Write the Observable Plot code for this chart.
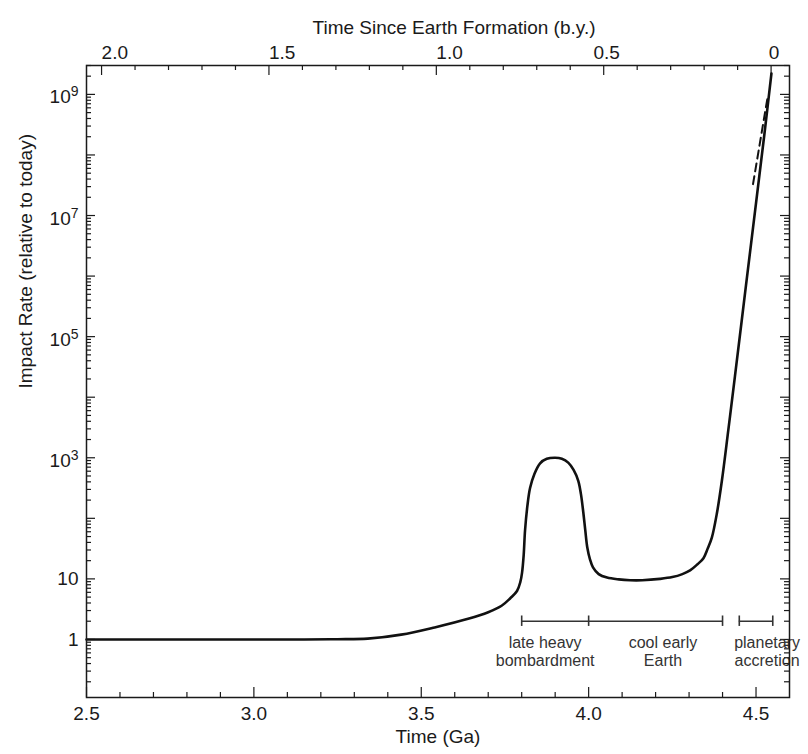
<!DOCTYPE html>
<html><head><meta charset="utf-8">
<script src="https://cdn.jsdelivr.net/npm/d3@7"></script>
<script src="https://cdn.jsdelivr.net/npm/@observablehq/plot@0.6"></script>
<style>
body{margin:0;background:#fff}
svg{font-family:"Liberation Sans",Arial,Helvetica,sans-serif}
</style>
</head><body><div id="chart"></div>
<script>
// ---- data ----
const timeGa = [2.5, 2.8, 3.0, 3.15, 3.25, 3.34, 3.44, 3.54, 3.64, 3.70, 3.74, 3.766, 3.786, 3.796, 3.801, 3.806, 3.810, 3.817, 3.825, 3.838, 3.855, 3.875, 3.900, 3.920, 3.939, 3.955, 3.969, 3.977, 3.984, 3.990, 3.996, 4.004, 4.013, 4.03, 4.055, 4.09, 4.124, 4.16, 4.213, 4.25, 4.28, 4.303, 4.325, 4.343, 4.356, 4.368, 4.383, 4.398, 4.417, 4.437, 4.47, 4.50, 4.525, 4.546];
const impactRate = [1.0, 1.0, 1.0, 1.0, 1.01, 1.03, 1.2, 1.58, 2.19, 2.82, 3.6, 4.8, 6.3, 8.9, 12.6, 25, 63, 160, 316, 540, 810, 960, 1000, 960, 832, 631, 417, 251, 126, 63, 33, 21, 15.5, 12, 10.5, 9.8, 9.5, 9.5, 10, 10.7, 12, 13.8, 17.4, 22, 32, 48, 120, 417, 2800, 22000, 7e5, 1.6e7, 2.2e8, 2.2e9];
const dashTimeGa = [4.491, 4.536];
const dashRate = [3.3e7, 1.0e9];

const bottomTickLabels = [2.5, 3.0, 3.5, 4.0, 4.5];
const bottomMinorTicks = [2.6, 2.7, 2.8, 2.9, 3.1, 3.2, 3.3, 3.4, 3.6, 3.7, 3.8, 3.9, 4.1, 4.2, 4.3, 4.4];
const earthFormationGa = 4.545;
const topTickLabels = [2.0, 1.5, 1.0, 0.5, 0];
const topMinorTicks = [1.9, 1.8, 1.7, 1.6, 1.4, 1.3, 1.2, 1.1, 0.9, 0.8, 0.7, 0.6, 0.4, 0.3, 0.2, 0.1];
const yTickLabels = [1, 10, 1e3, 1e5, 1e7, 1e9];

const periodNames = ["late heavy\nbombardment", "cool early\nEarth", "planetary\naccretion"];
const periodStart = [3.8, 4.0, 4.45];
const periodEnd = [4.0, 4.4, 4.55];
const periodLabelAt = [3.87, 4.222, 4.533];
const bracketLevel = 2;
const labelLevel = 0.63;

// ---- layout ----
const W = 808, H = 754, mL = 86, mR = 19, mT = 65, mB = 57;
const pw = W - mL - mR, ph = H - mT - mB;
const ink = "#1a1a1a";
const fs = 19;

const curve = timeGa.map((t, i) => ({t, r: impactRate[i]}));
const dash = dashTimeGa.map((t, i) => ({t, r: dashRate[i]}));
const periods = periodNames.map((n, i) => ({n, a: periodStart[i], b: periodEnd[i], c: periodLabelAt[i]}));
const bracketEnds = Array.from(new Set([...periodStart, ...periodEnd]));

const yAll = d3.scaleLog().domain([0.11, 3e9]).ticks(40);
const isPow = v => Math.abs(Math.log10(v) - Math.round(Math.log10(v))) < 1e-9;
const yMajor = yAll.filter(isPow);
const yMinor = yAll.filter(v => !isPow(v));

const toGa = b => earthFormationGa - b;
const fmtTop = b => b === 0 ? "0" : b.toFixed(1);
const fmtPow = v => v === 1 ? "1" : v === 10 ? "10" : "10^" + Math.round(Math.log10(v));

const tk = {stroke: ink, strokeWidth: 1.2};

const chart = Plot.plot({
  width: W, height: H,
  marginLeft: mL, marginRight: mR, marginTop: mT, marginBottom: mB,
  x: {domain: [2.5, 4.6]},
  y: {type: "log", domain: [0.11, 3e9]},
  style: {fontFamily: '"Liberation Sans",Arial,Helvetica,sans-serif', background: "white", color: ink},
  marks: [
    // inward ticks
    Plot.ruleX(bottomMinorTicks, {x: d => d, insetTop: ph - 5, ...tk}),
    Plot.ruleX(bottomTickLabels, {x: d => d, insetTop: ph - 10, ...tk}),
    Plot.ruleX(topMinorTicks.map(toGa), {x: d => d, insetBottom: ph - 5, ...tk}),
    Plot.ruleX(topTickLabels.map(toGa), {x: d => d, insetBottom: ph - 10, ...tk}),
    Plot.ruleY(yMinor, {y: d => d, insetRight: pw - 5, ...tk}),
    Plot.ruleY(yMinor, {y: d => d, insetLeft: pw - 5, ...tk}),
    Plot.ruleY(yMajor, {y: d => d, insetRight: pw - 9, ...tk}),
    Plot.ruleY(yMajor, {y: d => d, insetLeft: pw - 9, ...tk}),
    // axes labels
    Plot.axisX({ticks: bottomTickLabels, anchor: "bottom", tickSize: 0, tickPadding: 9, fontSize: fs, tickFormat: d3.format(".1f"), label: null}),
    Plot.axisY({ticks: yTickLabels, anchor: "left", tickSize: 0, tickPadding: 8, fontSize: fs, tickFormat: fmtPow, label: null}),
    Plot.text(topTickLabels.slice(0, 3), {x: toGa, text: fmtTop, frameAnchor: "top", lineAnchor: "bottom", textAnchor: "start", dy: -7, fontSize: fs, fill: ink}),
    Plot.text(topTickLabels.slice(3), {x: toGa, text: fmtTop, frameAnchor: "top", lineAnchor: "bottom", dx: 3, dy: -7, fontSize: fs, fill: ink}),
    Plot.text(["Time Since Earth Formation (b.y.)"], {frameAnchor: "top", dx: 16, dy: -45, fontSize: fs, fill: ink}),
    Plot.text(["Time (Ga)"], {frameAnchor: "bottom", dy: 45, fontSize: fs, fill: ink}),
    Plot.text(["Impact Rate (relative to today)"], {frameAnchor: "left", dx: -61, dy: 7, rotate: -90, fontSize: fs, fill: ink}),
    // period brackets
    Plot.ruleY(periods, {y: () => bracketLevel, x1: "a", x2: "b", stroke: "#333", strokeWidth: 1.6}),
    Plot.ruleX(bracketEnds, {x: d => d, y1: bracketLevel * 0.82, y2: bracketLevel * 1.22, stroke: "#333", strokeWidth: 1.6}),
    Plot.text(periods, {x: "c", y: () => labelLevel, text: "n", fontSize: 16, lineHeight: 1.13, fill: "#333"}),
    // curve
    Plot.line(curve, {x: "t", y: "r", stroke: "#111", strokeWidth: 2.6, curve: "catmull-rom"}),
    Plot.line(dash, {x: "t", y: "r", stroke: "#111", strokeWidth: 2, strokeDasharray: "8,5"}),
    Plot.frame({stroke: ink, strokeWidth: 1.5})
  ]
});

// superscript exponents on the y tick labels
const ns = "http://www.w3.org/2000/svg";
chart.querySelectorAll('g[aria-label="y-axis tick label"] text').forEach(t => {
  const s = t.textContent;
  if (s.includes("^")) {
    const [b, e] = s.split("^");
    t.textContent = b;
    const ts = document.createElementNS(ns, "tspan");
    ts.setAttribute("dy", "-0.5em");
    ts.setAttribute("font-size", "14");
    ts.textContent = e;
    t.appendChild(ts);
    const tr = t.getAttribute("transform") || "";
    t.setAttribute("transform", tr + " translate(0,3)");
  }
});
document.getElementById("chart").appendChild(chart);
</script>
</body></html>
